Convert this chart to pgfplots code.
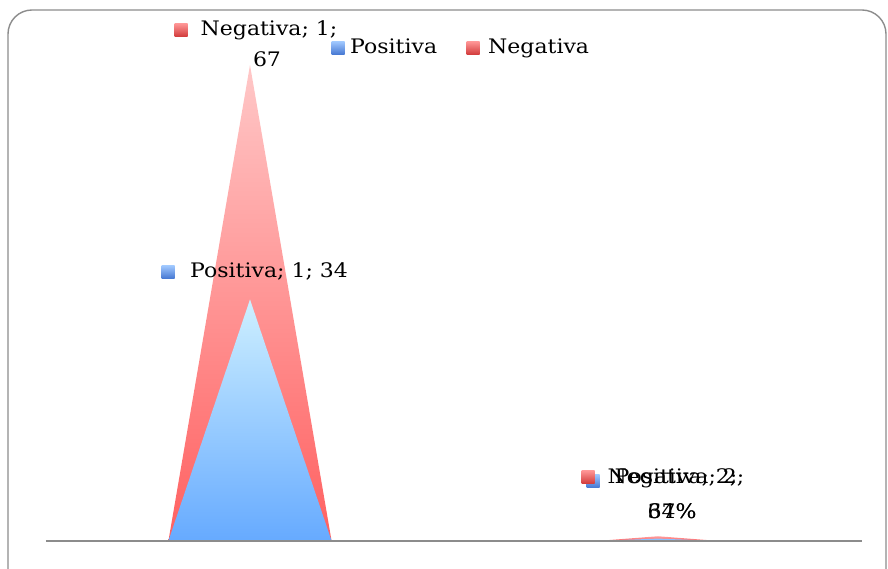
\documentclass[border=0pt]{standalone}
\usepackage{pgfplots}
\pgfplotsset{compat=1.18}
\usepackage{fontspec}
\setmainfont{DejaVu Serif}[FakeStretch=1.1]

\definecolor{negTop}{RGB}{255,200,200}
\definecolor{negBot}{RGB}{255,96,96}
\definecolor{posTop}{RGB}{206,240,255}
\definecolor{posBot}{RGB}{102,170,255}
\definecolor{frameGray}{RGB}{140,140,140}
\definecolor{keyNegTop}{RGB}{255,150,150}
\definecolor{keyNegBot}{RGB}{210,60,60}
\definecolor{keyPosTop}{RGB}{160,200,255}
\definecolor{keyPosBot}{RGB}{70,120,210}

% small gradient square used in front of every label
\newcommand{\keybox}[2]{\tikz\shade[top color=#1,bottom color=#2] (0,0) rectangle (13pt,13pt);}
\newcommand{\negkey}{\keybox{keyNegTop}{keyNegBot}}
\newcommand{\poskey}{\keybox{keyPosTop}{keyPosBot}}

\begin{document}
\begin{tikzpicture}[x=1pt,y=1pt,
  every node/.style={font=\fontsize{20}{31}\selectfont, inner sep=0pt}]
\useasboundingbox (0,0) rectangle (888,569);
\begin{scope}
  \clip (0,0) rectangle (888,569);
  \draw[frameGray, line width=1.4pt, rounded corners=24pt] (8,559) rectangle (886,-40);
\end{scope}

\begin{axis}[
  at={(46pt,28pt)}, anchor=south west,
  scale only axis, width=816pt, height=476pt,
  xmin=0.5, xmax=2.5, ymin=0, ymax=67,
  hide y axis,
  axis x line*=bottom,
  x axis line style={draw=frameGray, line width=2pt, -},
  xtick=\empty, ytick=\empty,
  axis on top, clip=false,
]
  % Negativa (behind)
  \addplot[draw=none, top color=negTop, bottom color=negBot]
    coordinates {(0.8,0) (1,67) (1.2,0)} -- cycle;
  \addplot[draw=none, top color=negTop!60!negBot, bottom color=negBot]
    coordinates {(1.85,0) (2,0.67) (2.15,0)} -- cycle;
  % Positiva (front)
  \addplot[draw=none, top color=posTop, bottom color=posBot]
    coordinates {(0.8,0) (1,34) (1.2,0)} -- cycle;
  \addplot[draw=none, top color=posTop!40!posBot, bottom color=posBot]
    coordinates {(1.85,0) (2,0.34) (2.15,0)} -- cycle;
\end{axis}

% data labels, category 1
\node at (181,539) {\negkey};
\node[anchor=base] at (269,533) {Negativa; 1;};
\node[anchor=base] at (267,502) {67};
\node at (168,297) {\poskey};
\node[anchor=base west] at (190,291) {Positiva; 1; 34};

% data labels, category 2 (they sit on top of each other)
\node at (593,88) {\poskey};
\node at (588,92) {\negkey};
\node[anchor=base] at (676,85) {Positiva; 2;};
\node[anchor=base] at (672,50) {34\%};
\node[anchor=base] at (676,85) {Negativa; 2;};
\node[anchor=base] at (672,50) {67\%};

% legend
\node at (338,521) {\poskey};
\node[anchor=base west] at (350,515) {Positiva};
\node at (473,521) {\negkey};
\node[anchor=base west] at (488,515) {Negativa};
\end{tikzpicture}
\end{document}
